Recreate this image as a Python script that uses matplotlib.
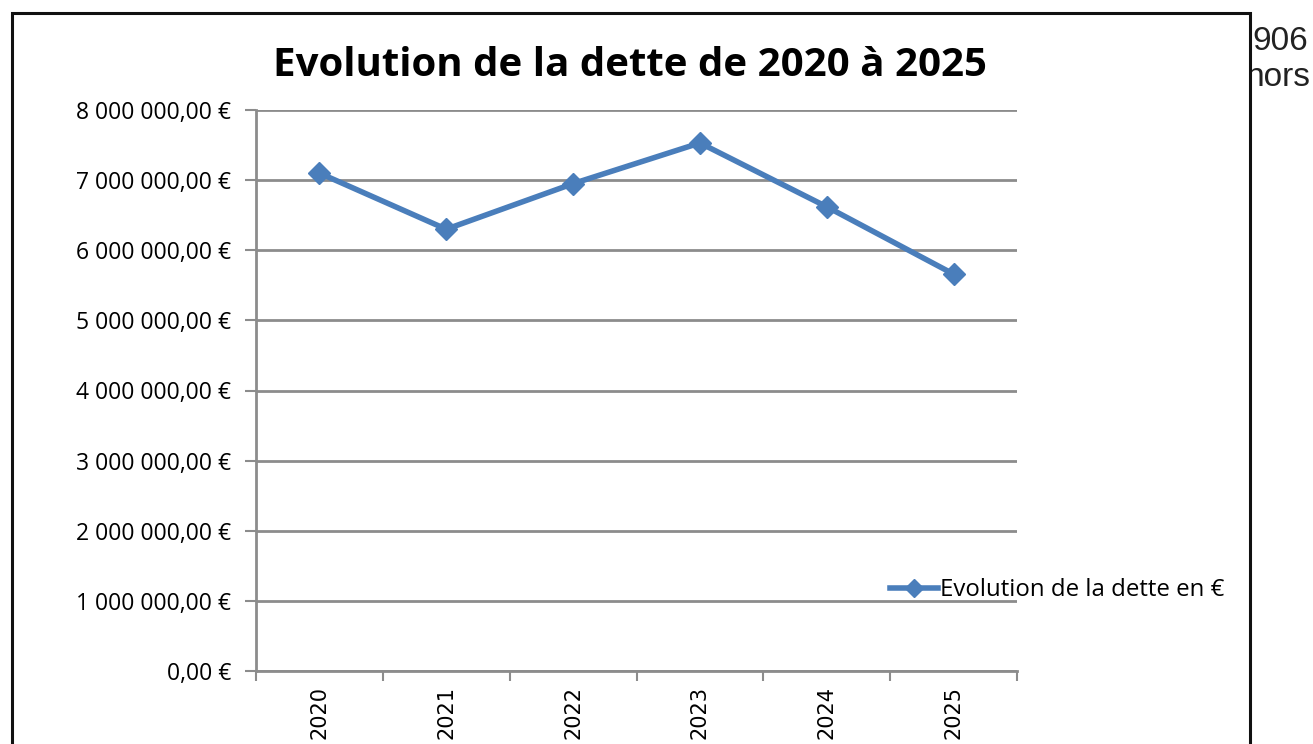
#!/usr/bin/env python
# -*- coding: utf-8 -*-

import numpy as np
import matplotlib
matplotlib.use('Agg')
import matplotlib.pyplot as plt
from matplotlib.patches import Rectangle
from matplotlib.ticker import FuncFormatter, FixedLocator

# Data
years = ['2020', '2021', '2022', '2023', '2024', '2025']
debt = [7100000, 6300000, 6950000, 7530000, 6620000, 5660000]
series_label = 'Evolution de la dette en €'
title = 'Evolution de la dette de 2020 à 2025'

W, H = 1313, 744
blue = '#4a7ebb'
grey = '#8c8c8c'


def euro(v, pos=None):
    """French style currency label, e.g. 8 000 000,00 €"""
    s = '{:,.2f}'.format(v).replace(',', ' ').replace('.', ',')
    return s + ' €'


fig = plt.figure(figsize=(W / 100, H / 100), dpi=100)
fig.patch.set_facecolor('white')

# Text of the page peeking out at the right of the chart box
fig.text(1252 / W, 1 - 41 / H, '906', fontsize=24, family='Liberation Sans',
         va='center', ha='left', color='#222222', zorder=0)
fig.text(1246 / W, 1 - 78 / H, 'hors', fontsize=24, family='Liberation Sans',
         va='center', ha='left', color='#222222', zorder=0)

# Chart box (white fill hides what lies below it)
fig.patches.append(Rectangle((12 / W, -0.05), (1250 - 12) / W, 1 - 13 / H + 0.05,
                             transform=fig.transFigure, facecolor='white',
                             edgecolor='#111111', linewidth=2.2, zorder=1))

ax = fig.add_axes([256 / W, 1 - 671 / H, (1017 - 256) / W, (671 - 110) / H])
ax.set_zorder(2)
ax.patch.set_alpha(0)

x = np.arange(len(years))
ax.plot(x, debt, color=blue, linewidth=4, marker='D', markersize=11,
        markeredgecolor=blue, label=series_label, zorder=3)

ax.set_xlim(-0.5, len(years) - 0.5)
ax.set_ylim(0, 8000000)
ax.set_yticks(np.arange(0, 8000001, 1000000))
ax.yaxis.set_major_formatter(FuncFormatter(euro))
ax.grid(axis='y', color=grey, linewidth=2)
ax.set_axisbelow(True)

# category axis: ticks between categories, labels at centres
ax.xaxis.set_major_locator(FixedLocator(np.arange(-0.5, len(years), 1.0)))
ax.xaxis.set_minor_locator(FixedLocator(x))
ax.set_xticklabels([''] * (len(years) + 1))
ax.set_xticklabels(years, minor=True, rotation=90, fontsize=15,
                   family='DejaVu Sans', va='top')
ax.tick_params(axis='x', which='minor', length=0, pad=11)
ax.tick_params(axis='x', which='major', length=7, width=1.5, color=grey)
ax.tick_params(axis='y', length=8, width=1.5, color=grey, labelsize=16.5,
               pad=10)
for lab in ax.get_yticklabels():
    lab.set_family('Open Sans')

for side in ['top', 'right']:
    ax.spines[side].set_visible(False)
for side in ['left', 'bottom']:
    ax.spines[side].set_color(grey)
    ax.spines[side].set_linewidth(2)

fig.text(630 / W, 1 - 66 / H, title, fontsize=29, fontweight='bold',
         family='Open Sans', ha='center', va='center', zorder=3)

leg = fig.legend(loc='center left', bbox_to_anchor=(890 / W, 1 - 590 / H),
                 frameon=False, handlelength=2.0, markerscale=0.8,
                 handletextpad=0.1, borderaxespad=0, borderpad=0,
                 prop={'family': 'Open Sans', 'size': 17.3})
leg.set_zorder(4)

fig.savefig('out.png', dpi=100)
